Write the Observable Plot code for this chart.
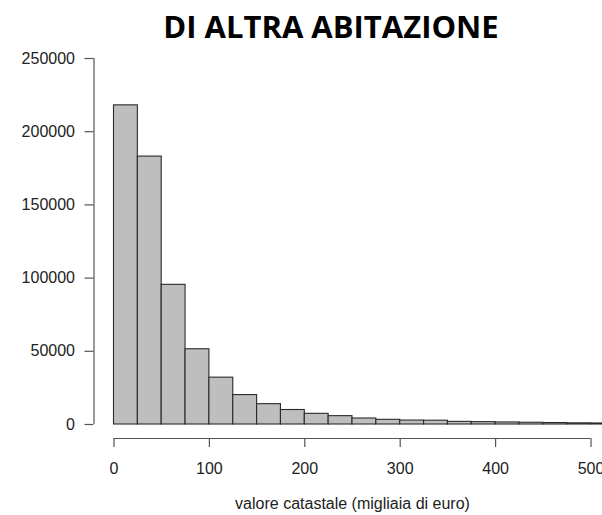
<!DOCTYPE html>
<html>
<head>
<meta charset="utf-8">
<script src="https://cdn.jsdelivr.net/npm/d3@7"></script>
<script src="https://cdn.jsdelivr.net/npm/@observablehq/plot@0.6"></script>
<style>
  html, body { margin: 0; padding: 0; background: #fff; overflow: hidden; }
  #wrap { position: relative; width: 602px; height: 515px; }
  #title { position: absolute; left: 331px; top: 10.5px; transform: translateX(-50%);
    font-family: "Open Sans", sans-serif; font-weight: 700; font-size: 31px; line-height: 1;
    color: #000; white-space: nowrap; }
  #chart { position: absolute; left: 0; top: 50px; }
</style>
</head>
<body>
<div id="wrap">
  <div id="title">DI ALTRA ABITAZIONE</div>
  <div id="chart"></div>
</div>
<script>
// Histogram bins (thousands of euro), width 25
const binStart = [0, 25, 50, 75, 100, 125, 150, 175, 200, 225, 250, 275, 300, 325, 350, 375, 400, 425, 450, 475, 500];
const binEnd   = [25, 50, 75, 100, 125, 150, 175, 200, 225, 250, 275, 300, 325, 350, 375, 400, 425, 450, 475, 500, 525];
const counts   = [218000, 183000, 95400, 51400, 32000, 20100, 13900, 9900, 7300, 5700, 4100, 3200, 2700, 2600, 1800, 1600, 1400, 1200, 1000, 800, 700];
const xTicks = [0, 100, 200, 300, 400, 500];
const yTicks = [0, 50000, 100000, 150000, 200000, 250000];
const xLabel = "valore catastale (migliaia di euro)";

const bins = binStart.map((s, i) => ({x1: s, x2: binEnd[i], count: counts[i]}));

const W = 602, H = 465;
const x0px = 113.5, x500px = 590.5;
const y0px = 374, yTopPx = 8;
const axisYpx = 388;     // x-axis line position
const axisXpx = 93.5;    // y-axis line position
const xOff = (axisXpx - x0px) / ((x500px - x0px) / 500);
const yOff = (axisYpx - y0px) / ((yTopPx - y0px) / 250000);

const font = "Liberation Sans, Arial, Helvetica, sans-serif";
const chart = Plot.plot({
  width: W,
  height: H,
  marginLeft: axisXpx,
  marginRight: 0,
  marginTop: yTopPx,
  marginBottom: H - axisYpx,
  style: {fontFamily: font, fontSize: "16px", color: "#222", background: "#fff"},
  x: {domain: [0, 500], range: [x0px, x500px]},
  y: {domain: [0, 250000], range: [y0px, yTopPx]},
  marks: [
    Plot.rectY(bins, {x1: "x1", x2: "x2", y: "count", fill: "#bebebe", stroke: "#2a2a2a", strokeWidth: 1.1, clip: true}),
    Plot.ruleX([xOff], {y1: 0, y2: 250000, stroke: "#555", strokeWidth: 1.2}),
    Plot.ruleY([yOff], {x1: 0, x2: 500, stroke: "#555", strokeWidth: 1.2}),
    Plot.axisY({ticks: yTicks, tickSize: 9, tickPadding: 10, tickFormat: d => String(d), label: null, stroke: "#555", fill: "#222", strokeWidth: 1.2, fontSize: 16}),
    Plot.axisX({ticks: xTicks, tickSize: 9, tickPadding: 15, tickFormat: d => String(d), label: null, stroke: "#555", fill: "#222", strokeWidth: 1.2, fontSize: 16}),
    Plot.text([{x: 250, t: xLabel}], {x: "x", text: "t", frameAnchor: "bottom", dy: 70, fontSize: 16, fill: "#222"})
  ]
});
document.getElementById("chart").appendChild(chart);
</script>
</body>
</html>
